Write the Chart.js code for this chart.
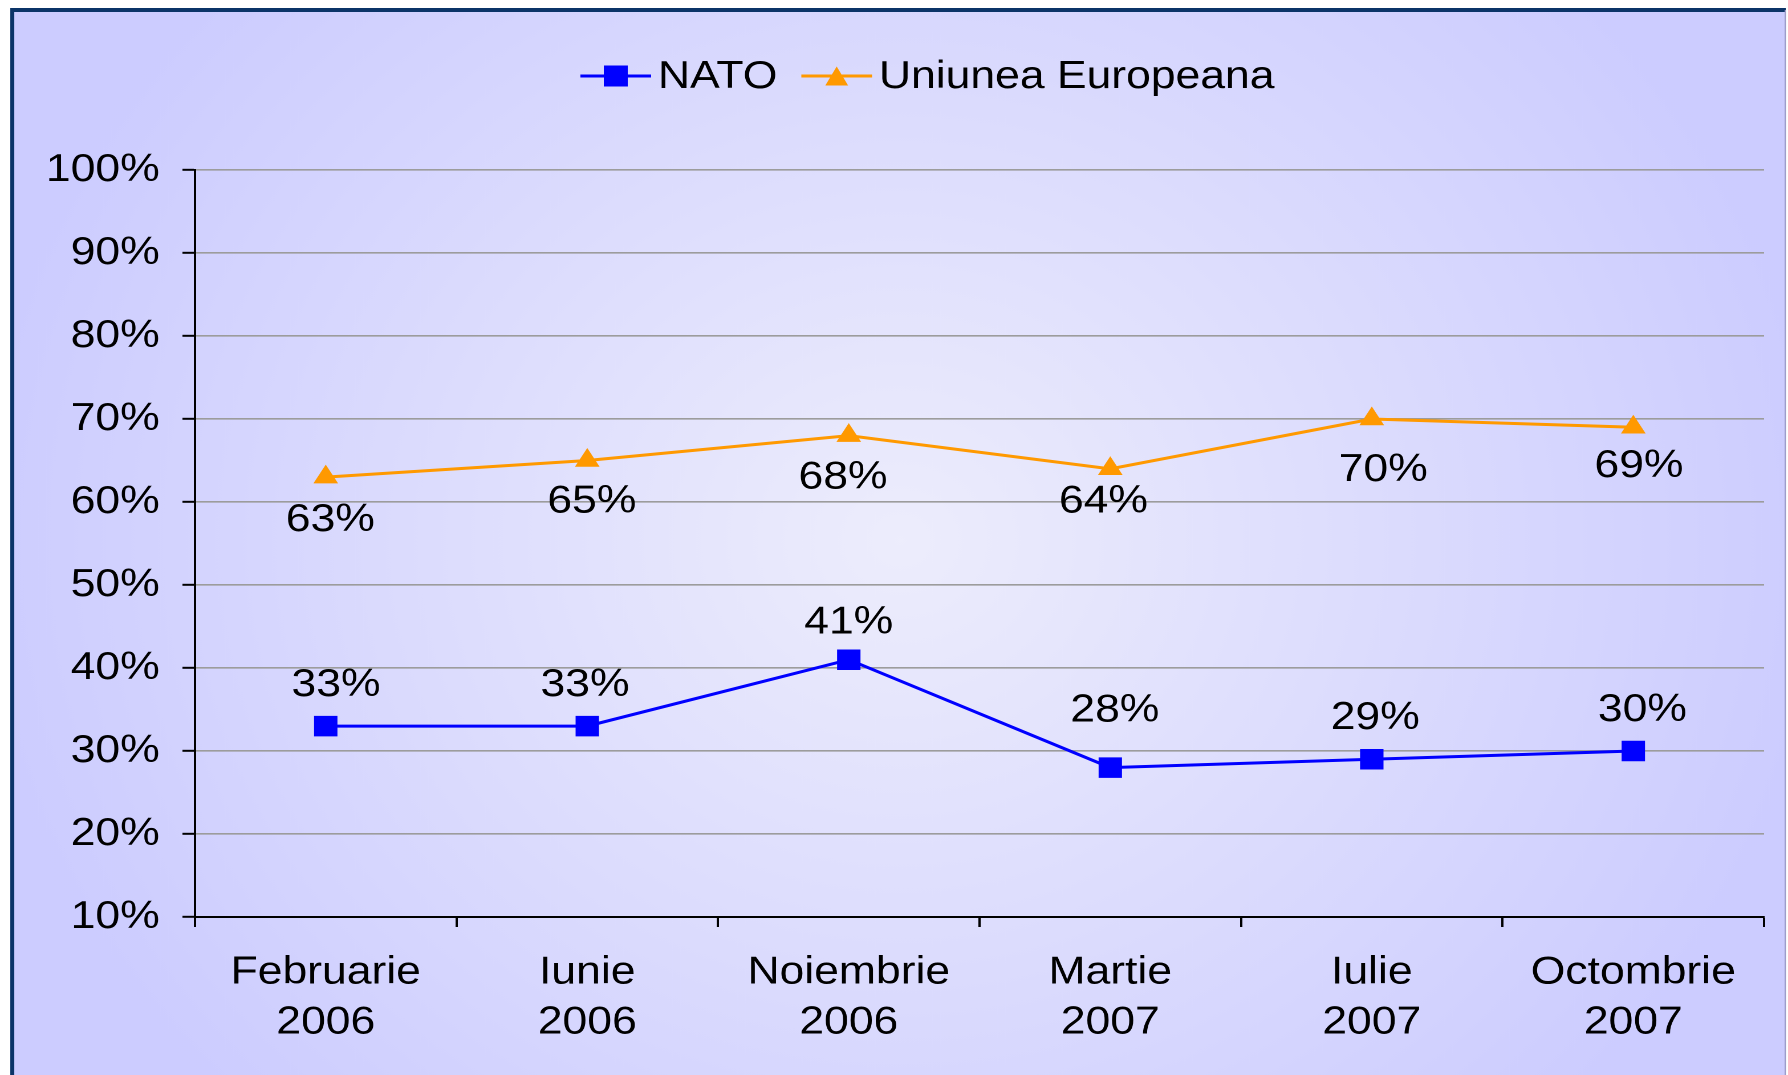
<!DOCTYPE html>
<html><head><meta charset="utf-8">
<script src="https://cdn.jsdelivr.net/npm/chart.js@4/dist/chart.umd.min.js"></script>
<style>
html,body{margin:0;padding:0;background:#fff;overflow:hidden;}
#wrap{width:1568px;height:1075px;transform:scaleX(1.14031);transform-origin:0 0;}
canvas{display:block;}
</style></head><body>
<div id="wrap"><canvas id="c" width="1568" height="1075"></canvas></div>
<script>
// ---- data ----
const categories = [['Februarie','2006'],['Iunie','2006'],['Noiembrie','2006'],['Martie','2007'],['Iulie','2007'],['Octombrie','2007']];
const natoValues = [33, 33, 41, 28, 29, 30];
const euValues = [63, 65, 68, 64, 70, 69];
const yTickValues = [10, 20, 30, 40, 50, 60, 70, 80, 90, 100];
const seriesNames = ['NATO', 'Uniunea Europeana'];

// ---- styles ----
const FONT = "'Liberation Sans', Arial, Helvetica, sans-serif";
const FS = 39;
const NATO_COLOR = '#0000FF';
const EU_COLOR = '#FF9900';
// label offsets relative to each point (dx, dy), style only
const natoLabelOffsets = [[9,-41],[-2,-41],[0,-37],[4,-57],[3,-41],[8,-41]];
const euLabelOffsets = [[4,43],[4,41],[-5,42],[-6,33],[10,51],[5,39]];

Chart.defaults.font.family = FONT;
Chart.defaults.color = '#000';

const bgPlugin = {
  id: 'bgFrame',
  beforeDraw(chart) {
    const ctx = chart.ctx;
    ctx.save();
    ctx.fillStyle = '#fff';
    ctx.fillRect(0, 0, chart.width, chart.height);
    const g = ctx.createRadialGradient(790, 540, 0, 790, 540, 820);
    g.addColorStop(0, '#EDEDFC');
    g.addColorStop(1, '#CCCCFF');
    ctx.fillStyle = g;
    ctx.fillRect(11, 10, 1555, 1070);
    ctx.fillStyle = '#0B3468';
    ctx.fillRect(9, 8, 1557, 4);
    ctx.fillRect(9, 8, 3.5, 1070);
    ctx.fillStyle = '#9A9AC8';
    ctx.fillRect(1565, 10, 1.2, 1070);
    ctx.restore();
  }
};

function drawSquare(ctx, x, y, s, color) {
  ctx.fillStyle = color;
  ctx.fillRect(x - s/2, y - s/2, s, s);
}
function drawTriangle(ctx, x, y, w, h, color) {
  ctx.fillStyle = color;
  ctx.beginPath();
  ctx.moveTo(x, y - h/2);
  ctx.lineTo(x + w/2, y + h/2);
  ctx.lineTo(x - w/2, y + h/2);
  ctx.closePath();
  ctx.fill();
}

const legendPlugin = {
  id: 'customLegend',
  afterDraw(chart) {
    const ctx = chart.ctx;
    ctx.save();
    const y = 76;
    let x = 509;
    ctx.font = FS + 'px ' + FONT;
    ctx.textBaseline = 'middle';
    ctx.textAlign = 'left';
    ctx.lineWidth = 3;
    const marks = [
      (cx) => drawSquare(ctx, cx, y, 21, NATO_COLOR),
      (cx) => drawTriangle(ctx, cx, y, 20, 19, EU_COLOR)
    ];
    const colors = [NATO_COLOR, EU_COLOR];
    seriesNames.forEach((name, i) => {
      ctx.strokeStyle = colors[i];
      ctx.beginPath();
      ctx.moveTo(x, y);
      ctx.lineTo(x + 62, y);
      ctx.stroke();
      marks[i](x + 31);
      ctx.fillStyle = '#000';
      ctx.fillText(name, x + 68, y + 1);
      x += 68 + ctx.measureText(name).width + 21;
    });
    ctx.restore();
  }
};

const labelPlugin = {
  id: 'pointLabels',
  afterDatasetsDraw(chart) {
    const ctx = chart.ctx;
    ctx.save();
    ctx.font = FS + 'px ' + FONT;
    ctx.textAlign = 'center';
    ctx.textBaseline = 'middle';
    ctx.fillStyle = '#000';
    const offs = [natoLabelOffsets, euLabelOffsets];
    chart.data.datasets.forEach((ds, di) => {
      const meta = chart.getDatasetMeta(di);
      meta.data.forEach((pt, i) => {
        const o = offs[di][i];
        ctx.fillText(ds.data[i] + '%', pt.x + o[0], pt.y + o[1]);
      });
    });
    ctx.restore();
  }
};

new Chart(document.getElementById('c'), {
  type: 'line',
  data: {
    labels: categories,
    datasets: [
      {
        label: seriesNames[0], data: natoValues,
        borderColor: NATO_COLOR, backgroundColor: NATO_COLOR, borderWidth: 3,
        pointStyle: 'rect', pointRadius: 14.5, pointBorderWidth: 0,
        pointBackgroundColor: NATO_COLOR, pointBorderColor: NATO_COLOR,
        tension: 0, fill: false
      },
      {
        label: seriesNames[1], data: euValues,
        borderColor: EU_COLOR, backgroundColor: EU_COLOR, borderWidth: 3,
        pointStyle: 'triangle', pointRadius: 12.5, pointBorderWidth: 0,
        pointBackgroundColor: EU_COLOR, pointBorderColor: EU_COLOR,
        tension: 0, fill: false
      }
    ]
  },
  options: {
    responsive: false,
    devicePixelRatio: 2,
    animation: false,
    layout: { padding: { top: 170, left: 0, right: 21, bottom: 0 } },
    plugins: { legend: { display: false }, tooltip: { enabled: false } },
    scales: {
      x: {
        type: 'category',
        offset: true,
        grid: { display: true, offset: true, drawOnChartArea: false, drawTicks: true,
                tickLength: 10, tickColor: '#000', tickWidth: 2 },
        border: { display: true, color: '#000', width: 2 },
        ticks: { font: { size: FS, lineHeight: 1.28 }, color: '#000', padding: 21, maxRotation: 0, autoSkip: false },
        afterFit(scale) { scale.height = 158; }
      },
      y: {
        min: 10, max: 100,
        afterBuildTicks(scale) { scale.ticks = yTickValues.map(v => ({ value: v })); },
        grid: { color: '#9C9C9C', lineWidth: 1.6, drawTicks: true, tickLength: 11, tickColor: '#000', tickWidth: 2 },
        border: { display: true, color: '#000', width: 2 },
        ticks: { font: { size: FS }, color: '#000', padding: 20, callback: v => v + '%' },
        afterFit(scale) { scale.width = 171; }
      }
    }
  },
  plugins: [bgPlugin, legendPlugin, labelPlugin]
});
</script>
</body></html>
